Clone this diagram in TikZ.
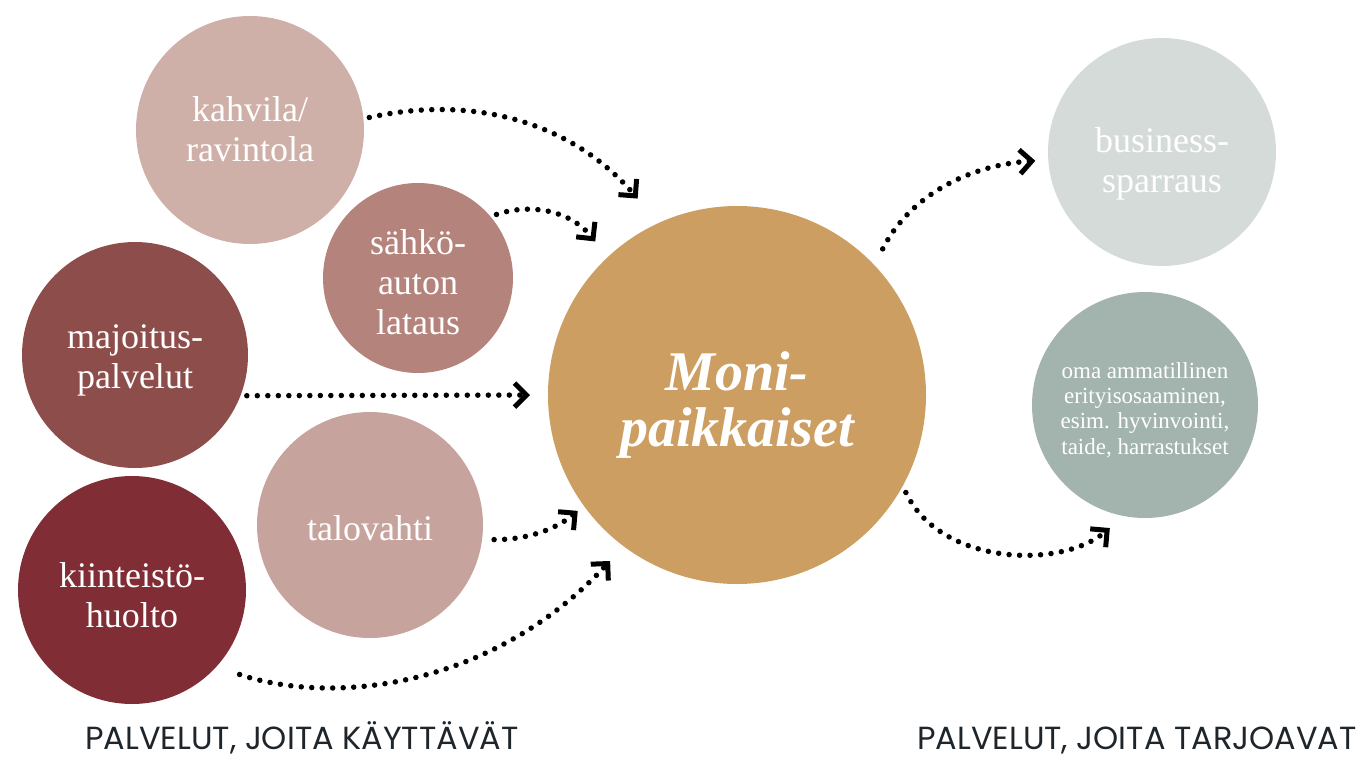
\documentclass[tikz,border=0pt]{standalone}
\usepackage{fontspec}
\setmainfont{Liberation Serif}
\newfontfamily\capsfont{Poppins}
\usetikzlibrary{arrows.meta}

\definecolor{cKahvila}{HTML}{CFB0A9}
\definecolor{cSahko}{HTML}{B4837C}
\definecolor{cMajoitus}{HTML}{8D4E4B}
\definecolor{cKiint}{HTML}{812D35}
\definecolor{cTalo}{HTML}{C7A39D}
\definecolor{cMoni}{HTML}{CC9E62}
\definecolor{cBusiness}{HTML}{D4DBD8}
\definecolor{cOma}{HTML}{A3B3AE}
\definecolor{capcol}{HTML}{1E252B}

\begin{document}
\begin{tikzpicture}[x=0.5pt, y=0.5pt,
  blob/.style={circle, inner sep=0pt, outer sep=3pt},
  blobtext/.style={align=center, inner sep=0pt, text=white,
    font=\fontsize{18}{20}\selectfont},
  link/.style={line width=2.75pt, line cap=round,
    dash pattern=on 0pt off 5.25pt,
    -{Straight Barb[length=6pt, width=12pt, line width=2.5pt]}},
  caption/.style={anchor=base, inner sep=0pt, text depth=0pt,
    font=\capsfont\fontsize{16}{18}\selectfont, text=capcol}]

\useasboundingbox (0,0) rectangle (1364,-760);

% services used by the multi-locals
\node[blob, fill=cKahvila, minimum size=114pt] (kahvila) at (250,-130) {};
\node[blob, fill=cSahko, minimum size=95pt] (sahko) at (418,-278) {};
\node[blob, fill=cMajoitus, minimum size=113pt] (majoitus) at (135,-355) {};
\node[blob, fill=cKiint, minimum size=114pt] (kiint) at (132,-590) {};
\node[blob, fill=cTalo, minimum size=113pt] (talo) at (370,-525) {};

% centre
\node[blob, fill=cMoni, minimum size=189pt] (moni) at (737,-395) {};

% services offered by the multi-locals
\node[blob, fill=cBusiness, minimum size=114pt] (business) at (1162,-152) {};
\node[blob, fill=cOma, minimum size=113pt] (oma) at (1145,-405) {};

% circle texts
\node[blobtext] (kahvilaT) at ([yshift=0.5pt]kahvila) {kahvila/\\ravintola};
\node[blobtext] (sahkoT) at ([yshift=-2pt]sahko) {sähkö-\\auton\\lataus};
\node[blobtext] (majoitusT) at ([yshift=-2.5pt]majoitus) {majoitus-\\palvelut};
\node[blobtext] (kiintT) at ([yshift=-2.5pt]kiint) {kiinteistö-\\huolto};
\node[blobtext] (taloT) at ([yshift=-1.5pt]talo) {talovahti};
\node[blobtext, font=\bfseries\itshape\fontsize{28}{28}\selectfont] (moniT) at ([yshift=-5pt]moni) {Moni-\\paikkaiset};
\node[blobtext] (businessT) at ([yshift=-6pt]business) {business-\\sparraus};
\node[blobtext, font=\fontsize{11.5}{12.7}\selectfont] (omaT) at ([yshift=-2.5pt]oma)
  {oma ammatillinen\\erityisosaaminen,\\esim. hyvinvointi,\\taide, harrastukset};

% dotted connectors
\draw[link, shorten >=13pt] (kahvila.6) .. controls (470,-95) and (570,-120) .. (moni.115);
\draw[link, shorten >=7pt] (sahko.39) .. controls (530,-203) and (570,-210) .. (moni.133);
\draw[link, shorten >=6pt] (majoitus.-20) -- (moni.180);
\draw[link, shorten <=3pt, shorten >=1pt] (talo.-7) .. controls (525,-540) and (555,-530) .. (moni.216);
\draw[link, shorten <=9pt, shorten >=7pt] (kiint.-41) .. controls (330,-705) and (490,-690) .. (moni.233);
\draw[link, shorten <=6pt, shorten >=3.5pt] (moni.44) .. controls (910,-195) and (970,-165) .. (business.184.5);
\draw[link, shorten >=5.5pt] (moni.-30) .. controls (940,-565) and (1060,-570) .. (oma.257);

% captions
\node[caption] (usedby) at (302,-749) {PALVELUT, JOITA KÄYTTÄVÄT};
\node[caption] (offeredby) at (1137,-749) {PALVELUT, JOITA TARJOAVAT};
\end{tikzpicture}
\end{document}
